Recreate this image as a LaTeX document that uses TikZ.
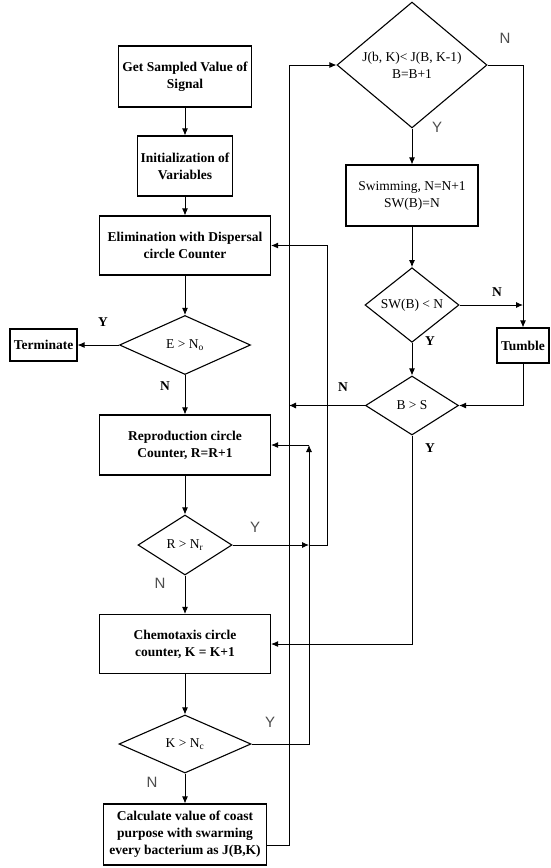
\documentclass[tikz,border=0pt]{standalone}
\usepackage{fontspec}
\setmainfont{Liberation Serif}
\newfontfamily\ynfont{Liberation Sans}
\usetikzlibrary{shapes.geometric,arrows.meta}

\begin{document}
\begin{tikzpicture}[x=1pt, y=-1pt,
	every node/.style={font=\fontsize{13.5}{17}\selectfont},
	box/.style={rectangle, draw=black, line width=1.1pt, align=center, inner sep=0pt},
	dec/.style={diamond, draw=black, line width=1.1pt, align=center, inner sep=0pt},
	bold/.style={font=\fontsize{13.5}{17}\selectfont\bfseries},
	yn/.style={font=\fontsize{13.5}{16}\selectfont\bfseries},
	ynsans/.style={font=\fontsize{15}{18}\ynfont, text=black!70},
	every path/.style={line width=0.9pt},
	>={Latex[length=7pt,width=6pt]}]
				\useasboundingbox (0,0) rectangle (551,868);
				
				% left column
				\node[box, bold, minimum width=133pt, minimum height=61pt] (get) at (185,76.5) {Get Sampled Value of\\Signal};
				\node[box, bold, minimum width=95pt, minimum height=60pt] (init) at (185,166) {Initialization of\\Variables};
				\node[box, bold, minimum width=171pt, minimum height=59pt] (elim) at (185,245.5) {Elimination with Dispersal\\circle Counter};
				\node[dec, minimum width=131pt, minimum height=59pt] (edia) at (185,345) {E > N\textsubscript{o}};
				\node[box, bold, minimum width=67pt, minimum height=32pt] (term) at (43.5,345) {Terminate};
				\node[box, bold, minimum width=171pt, minimum height=60pt] (repro) at (185,445) {Reproduction circle\\Counter, R=R+1};
				\node[dec, minimum width=94pt, minimum height=60pt] (rdia) at (185,545) {R > N\textsubscript{r}};
				\node[box, bold, minimum width=171pt, minimum height=59pt] (chemo) at (185,644) {Chemotaxis circle\\counter, K = K+1};
				\node[dec, minimum width=132pt, minimum height=58pt] (kdia) at (185,744) {K > N\textsubscript{c}};
				\node[box, bold, minimum width=163pt, minimum height=61pt] (calc) at (185,834.5) {Calculate value of coast\\purpose with swarming\\every bacterium as J(B,K)};
				
				% right column
				\node[dec, minimum width=150pt, minimum height=102pt] (jdia) at (412,65) {J(b, K)< J(B, K-1)\\B=B+1};
				\node[box, minimum width=132pt, minimum height=61pt] (swim) at (412,195.5) {Swimming, N=N+1\\SW(B)=N};
				\node[dec, minimum width=94pt, minimum height=58pt] (swdia) at (412,305) {SW(B) < N};
				\node[box, bold, minimum width=52pt, minimum height=35pt] (tumble) at (523,345.5) {Tumble};
				\node[dec, minimum width=93pt, minimum height=59pt] (bdia) at (412,405.5) {B > S};
				
				\coordinate (rm) at (309,545);
				\coordinate (rc) at (327,545);
				\coordinate (kc) at (309,744);
				\coordinate (ku) at (309,445);
				\coordinate (cl) at (289,845);
				\coordinate (ju) at (289,65);
				
				\draw[->] (get) -- (init);
				\draw[->] (init) -- (elim);
				\draw[->] (elim) -- (edia);
				\draw[->] (edia) -- (term);
				\draw[->] (edia) -- (repro);
				\draw[->] (repro) -- (rdia);
				\draw[->] (rdia) -- (chemo);
				\draw[->] (chemo) -- (kdia);
				\draw[->] (kdia) -- (calc);
				
				\draw[->] (rdia.east) -- (rm);
				\draw[->] (rm) -- (rc) |- (elim.east);
				\draw[->] (kdia.east) -- (kc) -- (ku);
				\draw[->] (ku) -- (repro.east);
				\draw[->] (calc.east |- cl) -- (cl) -- (ju) -- (jdia.west);
				
				\draw[->] (jdia) -- (swim);
				\draw[->] (swim) -- (swdia);
				\draw[->] (swdia) -- (bdia);
				\draw[->] (jdia.east) -| (tumble.north);
				\draw[->] (swdia.east) -- (swdia.east -| tumble.north);
				\draw[->] (tumble.south) |- (bdia.east);
				\draw[->] (bdia.west) -- (bdia.west -| cl);
				\draw[->] (bdia.south) |- (chemo.east);
				
				% Y / N labels
				\node[yn] (ye) at (103,322) {Y};
				\node[yn] (ne) at (165,386) {N};
				\node[ynsans] (yr) at (255,527) {Y};
				\node[ynsans] (nr) at (160,583) {N};
				\node[ynsans] (yk) at (270,722) {Y};
				\node[ynsans] (nk) at (152,782) {N};
				\node[ynsans] (nj) at (505,38) {N};
				\node[ynsans] (yj) at (437,127) {Y};
				\node[yn] (nsw) at (497,292) {N};
				\node[yn] (ysw) at (430,341) {Y};
				\node[yn] (nb) at (343,387) {N};
				\node[yn] (yb) at (430,448) {Y};
				\end{tikzpicture}
\end{document}
